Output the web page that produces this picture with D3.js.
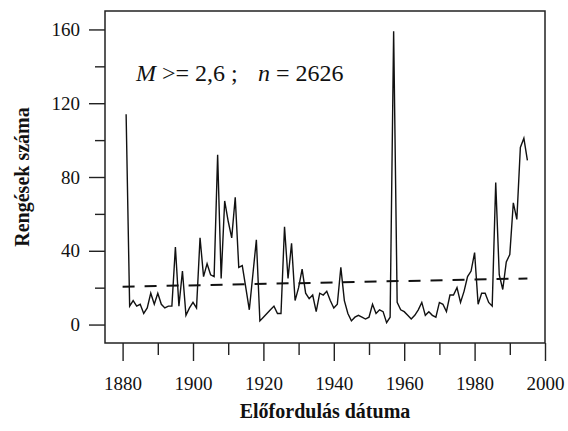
<!DOCTYPE html>
<html>
<head>
<meta charset="utf-8">
<script src="https://cdn.jsdelivr.net/npm/d3@7"></script>
<style>
  body { margin: 0; background: #fff; }
</style>
</head>
<body>
<div id="svgBody"></div>
<script>
// yearly earthquake counts, M >= 2.6
var years = d3.range(1881, 1996);
var counts = [
  114, 10, 13, 10, 11, 6, 9, 17, 11, 17,      // 1881-1890
  11, 9, 10, 10, 42, 10, 29, 5, 9, 12,        // 1891-1900
  9, 47, 26, 33, 27, 26, 92, 25, 67, 56,      // 1901-1910
  47, 69, 31, 32, 20, 8, 27, 46, 2, 4,        // 1911-1920
  6, 8, 10, 6, 6, 53, 25, 44, 13, 20,        // 1921-1930
  30, 17, 14, 16, 7, 17, 16, 18, 13, 9,       // 1931-1940
  11, 31, 13, 6, 2, 4, 5, 4, 3, 4,            // 1941-1950
  11, 6, 8, 7, 1, 4, 159, 12, 8, 7,           // 1951-1960
  5, 3, 5, 8, 12, 5, 7, 5, 4, 12,             // 1961-1970
  11, 7, 16, 16, 20, 12, 18, 26, 29, 39,      // 1971-1980
  11, 17, 17, 12, 10, 77, 27, 19, 34, 38,     // 1981-1990
  66, 57, 96, 101, 89                         // 1991-1995
];
// linear trend (dashed)
var trendYears = [1880, 1995];
var trendValues = [20.5, 25];

var xMajor = [1880, 1900, 1920, 1940, 1960, 1980, 2000];
var xMinor = [1890, 1910, 1930, 1950, 1970, 1990];
var yMajor = [0, 40, 80, 120, 160];
var yMinor = [20, 60, 100, 140];

var serif = '"Times New Roman", "Liberation Serif", Times, "DejaVu Serif", serif';

var margin = {top: 11, right: 23, bottom: 88, left: 105},
    width = 568 - margin.left - margin.right,
    height = 431 - margin.top - margin.bottom;

var svg = d3.select("#svgBody")
    .append("svg")
    .attr("width", 568)
    .attr("height", 431)
    .append("g")
    .attr("transform", "translate(" + margin.left + "," + margin.top + ")");

var x = d3.scaleLinear().domain([1875, 2000]).range([0, width]);
var y = d3.scaleLinear().domain([-10, 170]).range([height, 0]);

// x axis
svg.append("g")
    .attr("transform", "translate(0," + height + ")")
    .call(d3.axisBottom(x).tickValues(xMajor).tickSize(18).tickPadding(16).tickFormat(d3.format("d")));
svg.append("g")
    .attr("transform", "translate(0," + height + ")")
    .call(d3.axisBottom(x).tickValues(xMinor).tickSize(12).tickFormat(""));

// y axis
svg.append("g")
    .call(d3.axisLeft(y).tickValues(yMajor).tickSize(16).tickPadding(9));
svg.append("g")
    .call(d3.axisLeft(y).tickValues(yMinor).tickSize(10).tickFormat(""));

svg.selectAll(".domain").remove();
svg.selectAll(".tick line").attr("stroke", "#222").attr("stroke-width", 1.4);
svg.selectAll(".tick text")
    .style("font-family", serif)
    .style("font-size", "19px")
    .style("fill", "#111");

// frame
svg.append("rect")
    .attr("x", 0).attr("y", 0)
    .attr("width", width).attr("height", height)
    .attr("fill", "none")
    .attr("stroke", "#222")
    .attr("stroke-width", 1.5);

// trend line
var trend = trendYears.map(function(d, i) { return [d, trendValues[i]]; });
svg.append("path")
    .datum(trend)
    .attr("fill", "none")
    .attr("stroke", "#111")
    .attr("stroke-width", 2)
    .attr("stroke-dasharray", "12,10")
    .attr("d", d3.line().x(function(d) { return x(d[0]); }).y(function(d) { return y(d[1]); }));

// data line
var data = years.map(function(d, i) { return [d, counts[i]]; });
svg.append("path")
    .datum(data)
    .attr("fill", "none")
    .attr("stroke", "#111")
    .attr("stroke-width", 1.4)
    .attr("d", d3.line().x(function(d) { return x(d[0]); }).y(function(d) { return y(d[1]); }));

// annotation
var note = svg.append("text")
    .attr("x", 136 - margin.left)
    .attr("y", 81 - margin.top)
    .style("font-family", serif)
    .style("font-size", "24px")
    .style("fill", "#111");
note.append("tspan").style("font-style", "italic").text("M");
note.append("tspan").text(" >= 2,6 ;");
note.append("tspan").attr("x", 258 - margin.left).style("font-style", "italic").text("n");
note.append("tspan").text(" = 2626");

// x axis label
svg.append("text")
    .attr("transform", "translate(" + (width / 2) + "," + (height + 75) + ")")
    .style("text-anchor", "middle")
    .style("font-family", serif)
    .style("font-size", "20px")
    .style("font-weight", "bold")
    .style("fill", "#111")
    .text("Előfordulás dátuma");

// y axis label
svg.append("text")
    .attr("transform", "rotate(-90)")
    .attr("x", 0 - height / 2)
    .attr("y", 29 - margin.left)
    .style("text-anchor", "middle")
    .style("font-family", serif)
    .style("font-size", "20px")
    .style("font-weight", "bold")
    .style("fill", "#111")
    .text("Rengések száma");
</script>
</body>
</html>
